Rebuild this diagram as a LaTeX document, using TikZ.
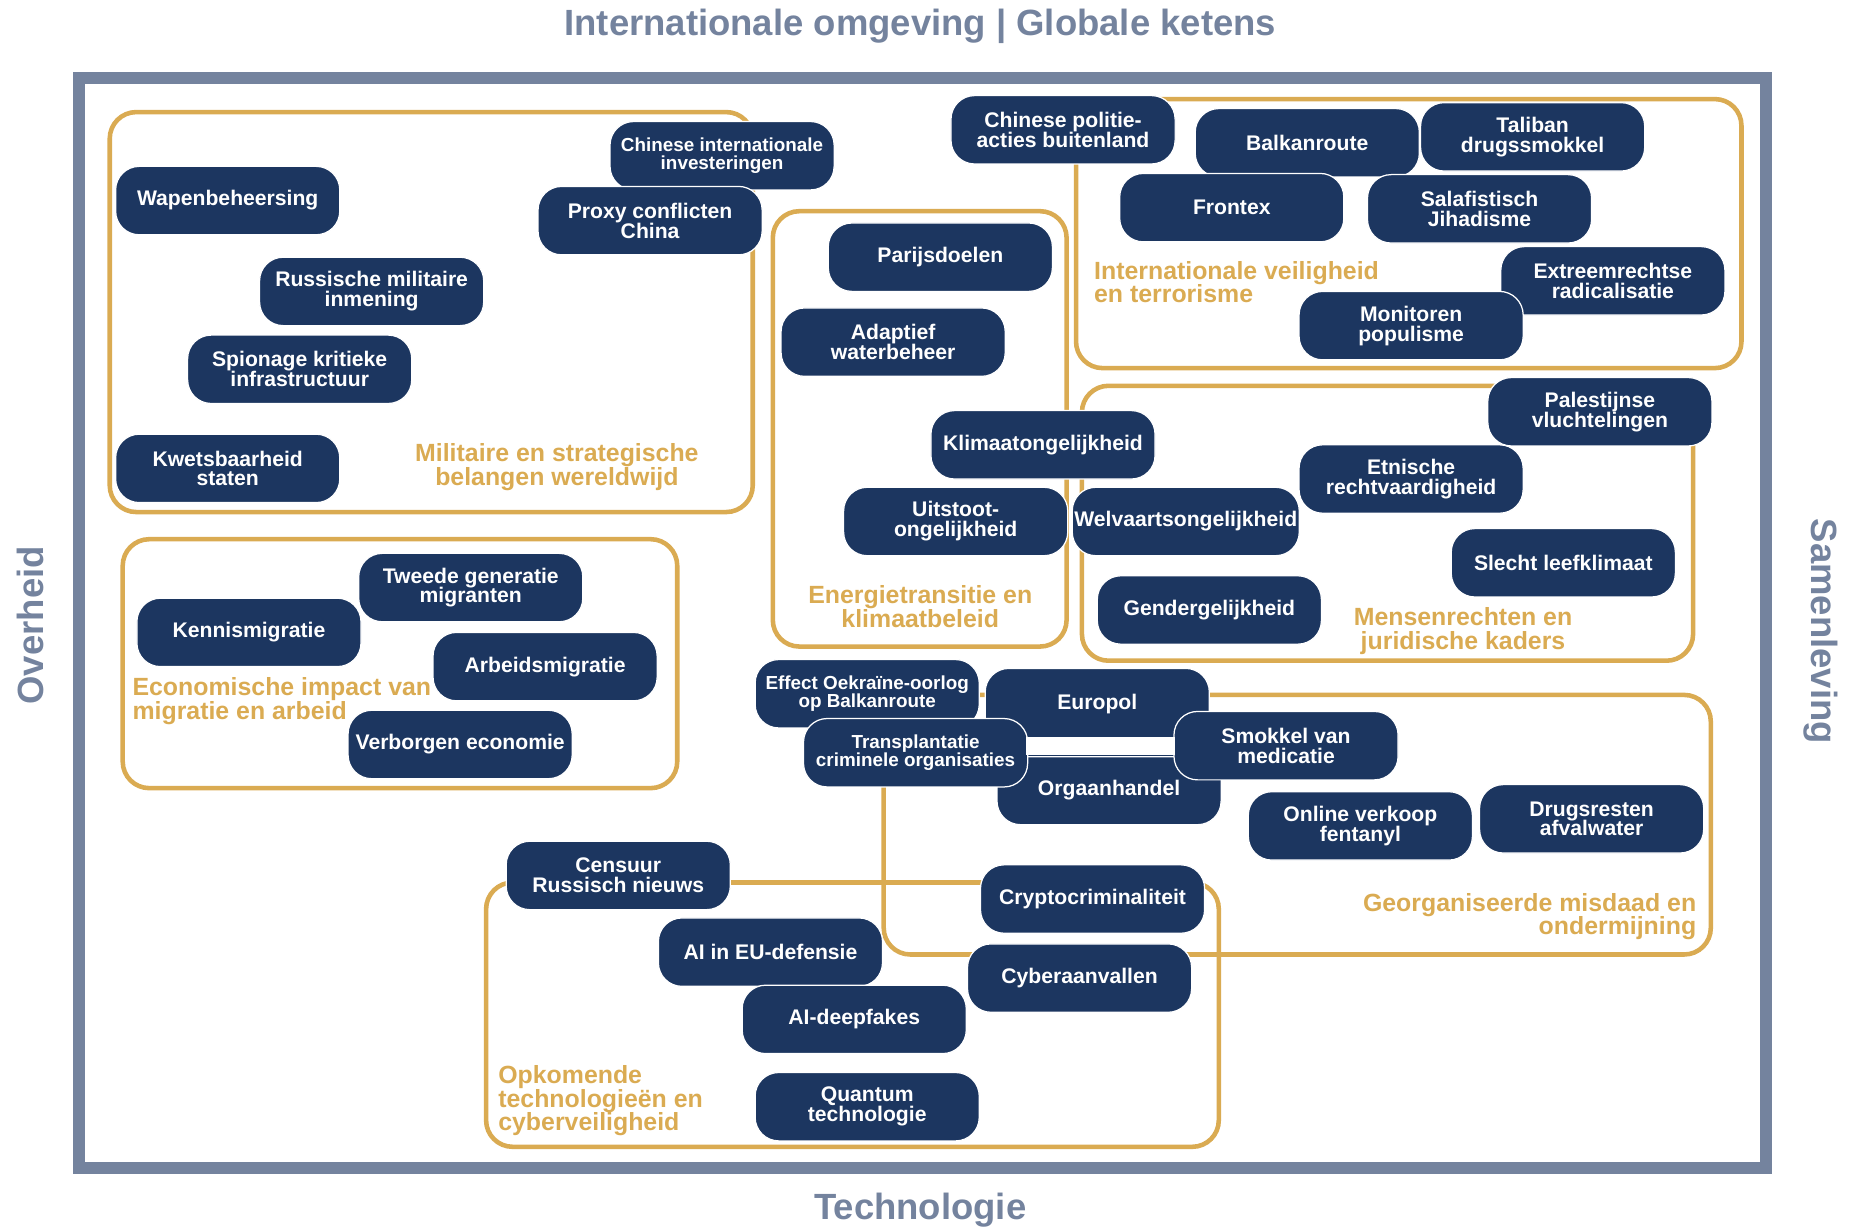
\documentclass[tikz,border=0pt]{standalone}
\usepackage{fontspec}
\setmainfont{Liberation Sans}
\usepackage{xcolor}
\usepackage{tikz}
\usetikzlibrary{positioning}

\definecolor{navy}{RGB}{28,54,96}
\definecolor{gold}{RGB}{218,171,82}
\definecolor{slate}{RGB}{116,131,158}

\begin{document}
\begin{tikzpicture}[
  x=0.02cm, y=-0.02cm,
  topic/.style={draw=white, line width=0.6pt, fill=navy, text=white, rounded corners=0.4cm, align=center, minimum width=3.8cm, minimum height=1.16cm, inner sep=1pt, font=\bfseries\fontsize{10.2}{9.6}\selectfont},
  smalltopic/.style={topic, font=\bfseries\fontsize{9.1}{8.9}\selectfont},
  group/.style={draw=gold, line width=2.2pt, rounded corners=0.45cm},
  grouplabel/.style={text=gold, inner sep=0pt, font=\bfseries\fontsize{12}{11.4}\selectfont},
  axis/.style={text=slate, inner sep=0pt, font=\bfseries\fontsize{17.6}{20}\selectfont}
]
  \useasboundingbox (0,0) rectangle (1568,1041.5);

  % outer frame and axis labels
  \draw[slate, line width=0.2cm] (67,66) rectangle (1496.5,990);
  \node[axis] (top) at (780,22) {Internationale omgeving | Globale ketens};
  \node[axis] (bottom) at (780,1026) {Technologie};
  \node[axis, rotate=90] (left) at (26,530) {Overheid};
  \node[axis, rotate=-90] (right) at (1543,535) {Samenleving};

  % themes
  \draw[group] (93,95) rectangle (638,434);
  \draw[group] (104,457) rectangle (574,668);
  \draw[group] (655,179) rectangle (904,548);
  \draw[group] (912,84) rectangle (1476,312);
  \draw[group] (917,327) rectangle (1435,560);
  \draw[group] (749,589) rectangle (1450,809);
  \draw[group] (412,748) rectangle (1033,972);

  \node[grouplabel, align=center] (mil) at (472,396) {Militaire en strategische\\belangen wereldwijd};
  \node[grouplabel, align=center] (ener) at (780,514) {Energietransitie en\\klimaatbeleid};
  \node[grouplabel, align=left, anchor=west] (veil) at (927,239) {Internationale veiligheid\\en terrorisme};
  \node[grouplabel, align=center] (mens) at (1240,535) {Mensenrechten en\\juridische kaders};
  \node[grouplabel, align=left, anchor=west] (econ) at (112,594) {Economische impact van\\migratie en arbeid};
  \node[grouplabel, align=right, anchor=east] (misd) at (1438,777) {Georganiseerde misdaad en\\ondermijning};
  \node[grouplabel, align=left, anchor=west] (tech) at (422,933) {Opkomende\\technologieën en\\cyberveiligheid};

  % militaire en strategische belangen
  \node[topic] (wapen) at (193,170) {Wapenbeheersing};
  \node[smalltopic] (chinv) at (612,132) {Chinese internationale\\investeringen};
  \node[topic] (proxy) at (551,187) {Proxy conflicten\\China};
  \node[topic] (rusmil) at (315,247) {Russische militaire\\inmening};
  \node[topic] (spion) at (254,313) {Spionage kritieke\\infrastructuur};
  \node[topic] (kwets) at (193,397) {Kwetsbaarheid\\staten};

  % energietransitie en klimaat
  \node[topic] (parijs) at (797,218) {Parijsdoelen};
  \node[topic] (water) at (757,290) {Adaptief\\waterbeheer};
  \node[topic] (klimaat) at (884,377) {Klimaatongelijkheid};
  \node[topic] (uitstoot) at (810,442) {Uitstoot-\\ongelijkheid};

  % internationale veiligheid
  \node[topic] (chpol) at (901,110) {Chinese politie-\\acties buitenland};
  \node[topic] (balkan) at (1108,121) {Balkanroute};
  \node[topic] (taliban) at (1299,116) {Taliban\\drugssmokkel};
  \node[topic] (frontex) at (1044,176) {Frontex};
  \node[topic] (salaf) at (1254,177) {Salafistisch\\Jihadisme};
  \node[topic] (extreem) at (1367,238) {Extreemrechtse\\radicalisatie};
  \node[topic] (popul) at (1196,276) {Monitoren\\populisme};

  % mensenrechten
  \node[topic] (palest) at (1356,349) {Palestijnse\\vluchtelingen};
  \node[topic] (etnisch) at (1196,406) {Etnische\\rechtvaardigheid};
  \node[topic] (welvaart) at (1005,442) {Welvaartsongelijkheid};
  \node[topic] (leef) at (1325,477) {Slecht leefklimaat};
  \node[topic] (gender) at (1025,517) {Gendergelijkheid};

  % migratie en arbeid
  \node[topic] (tweede) at (399,498) {Tweede generatie\\migranten};
  \node[topic] (kennis) at (211,536) {Kennismigratie};
  \node[topic] (arbeid) at (462,565) {Arbeidsmigratie};
  \node[topic] (verborgen) at (390,631) {Verborgen economie};

  % georganiseerde misdaad
  \node[smalltopic] (oekr) at (735,588) {Effect Oekraïne-oorlog\\op Balkanroute};
  \node[topic] (organ) at (940,670) {Orgaanhandel};
  \node[topic, minimum height=1.5cm, text height=7.5pt, text depth=10.9pt] (europol) at (930,604) {Europol};
  \node[smalltopic] (transpl) at (776,638) {Transplantatie\\criminele organisaties};
  \node[topic] (smokkel) at (1090,632) {Smokkel van\\medicatie};
  \node[topic] (fentanyl) at (1153,700) {Online verkoop\\fentanyl};
  \node[topic] (afval) at (1349,694) {Drugsresten\\afvalwater};
  \fill[white] (870,625) rectangle (996,640);

  % technologie en cyber
  \node[topic] (censuur) at (524,742) {Censuur\\Russisch nieuws};
  \node[topic] (crypto) at (926,762) {Cryptocriminaliteit};
  \node[topic] (aidef) at (653,807) {AI in EU-defensie};
  \node[topic] (cyber) at (915,829) {Cyberaanvallen};
  \node[topic] (deepf) at (724,864) {AI-deepfakes};
  \node[topic] (quantum) at (735,938) {Quantum\\technologie};
\end{tikzpicture}
\end{document}
